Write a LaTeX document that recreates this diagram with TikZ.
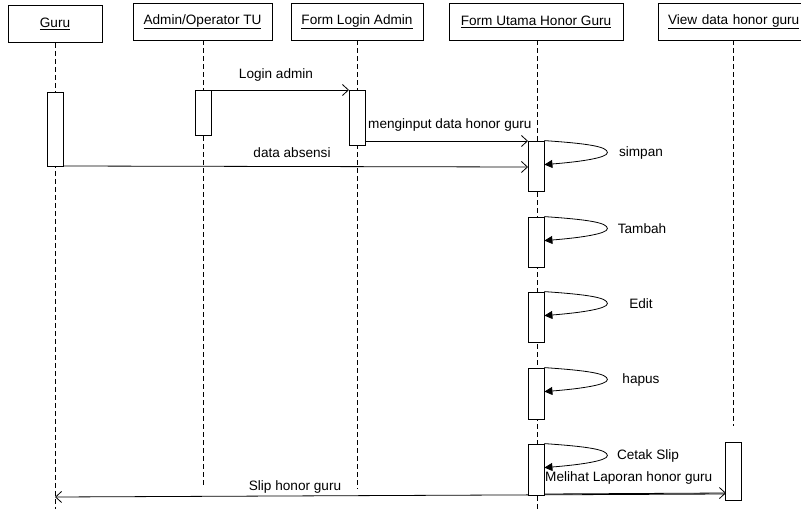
\documentclass[tikz,border=0pt]{standalone}
\usepackage{fontspec}
\setmainfont{Liberation Sans}
\usetikzlibrary{arrows.meta}
\begin{document}
\begin{tikzpicture}[x=1pt,y=-1pt,
  font=\fontsize{13.6}{15}\selectfont,
  headbox/.style={draw, line width=0.8pt, minimum height=37pt, inner sep=0pt, fill=white},
  lifeline/.style={dashed, dash pattern=on 5pt off 3pt, line width=0.8pt},
  actbox/.style={draw, line width=0.8pt, fill=white, minimum width=16pt, inner sep=0pt},
  msg/.style={line width=0.8pt, -{Straight Barb[length=6pt,width=11pt,line width=0.8pt]}},
  selfmsg/.style={line width=0.8pt, -{Triangle[length=8pt,width=8pt]}},
  lbl/.style={inner sep=0pt, anchor=center}]
\useasboundingbox (0,0) rectangle (801,509);

% object heads
\node[headbox, minimum width=94pt]  (guru)  at (55,24)    {\underline{Guru}};
\node[headbox, minimum width=139pt] (admin) at (202.5,21.5) {\underline{Admin/Operator TU}};
\node[headbox, minimum width=132pt] (login) at (357,21.5)   {\underline{Form Login Admin}};
\node[headbox, minimum width=174pt] (utama) at (536,21.5)   {\underline{Form Utama Honor Guru}};
\node[headbox, minimum width=150pt, text width=140pt, align=left] (view) at (733,21.5) {\hspace*{5pt}\underline{View data honor guru}};

% lifelines
\coordinate (guruEnd)  at (55,509);
\coordinate (adminEnd) at (203,488);
\coordinate (loginEnd) at (357,489);
\coordinate (utamaEnd) at (537,509);
\coordinate (viewEnd)  at (733,426);
\draw[lifeline] (guru.south)  -- (guruEnd);
\draw[lifeline] (admin.south -| adminEnd) -- (adminEnd);
\draw[lifeline] (login.south -| loginEnd) -- (loginEnd);
\draw[lifeline] (utama.south -| utamaEnd) -- (utamaEnd);
\draw[lifeline] (view.south -| viewEnd) -- (viewEnd);

% activation anchors (messages are drawn first, boxes on top)
\coordinate (gA) at (63,166);
\coordinate (aA) at (211,90);
\coordinate (lA) at (349,90);
\coordinate (lB) at (365,141);
\coordinate (uIn1) at (528,141);
\coordinate (uIn2) at (528,167);
\coordinate (uOut) at (544,494);
\coordinate (vIn) at (726,493);
\coordinate (vOut) at (726,494);
\coordinate (gIn) at (55,497);

% messages
\draw[msg] (aA) -- (lA);
\node[lbl] (m1) at (276,75) {Login admin};
\draw[msg] (lB) -- (uIn1);
\node[lbl, anchor=west] (m2) at (368,125) {menginput data honor guru};
\draw[msg] (gA) -- (uIn2);
\node[lbl] (m3) at (292,153) {data absensi};
\draw[msg] (uOut) -- (vIn);
\node[lbl, anchor=west] (m4) at (545,478) {Melihat Laporan honor guru};
\draw[msg] (vOut) -- (gIn);
\node[lbl] (m5) at (295,487) {Slip honor guru};

% activation boxes
\node[actbox, minimum height=74pt] (g1) at (55,129) {};
\node[actbox, minimum height=45pt] (a1) at (203,112.5) {};
\node[actbox, minimum height=55pt] (l1) at (357,117.5) {};
\node[actbox, minimum height=50pt] (u1) at (536,166) {};
\node[actbox, minimum height=50pt] (u2) at (536,242) {};
\node[actbox, minimum height=50pt] (u3) at (536,317) {};
\node[actbox, minimum height=51pt] (u4) at (536,393.5) {};
\node[actbox, minimum height=51pt] (u5) at (536,469.5) {};
\node[actbox, minimum height=58pt] (v1) at (733.5,471) {};

% self messages on the main form
\foreach \b/\t/\txt/\tx in {u1/simpan/simpan/641, u2/tambah/Tambah/642, u3/edit/Edit/641, u4/hapus/hapus/641, u5/cetak/Cetak Slip/648}{
  \coordinate (\b tip) at ([xshift=63pt, yshift=-12pt]\b.north east);
  \coordinate (\b back) at ([yshift=-24pt]\b.north east);
  \draw[selfmsg] (\b.north east) .. controls +(44,3) and +(0,-6) .. (\b tip)
       .. controls +(0,5) and +(38,-3) .. (\b back);
  \node[lbl] (\t) at (\tx, 0 |- \b tip) {\txt};
}
\end{tikzpicture}
\end{document}
